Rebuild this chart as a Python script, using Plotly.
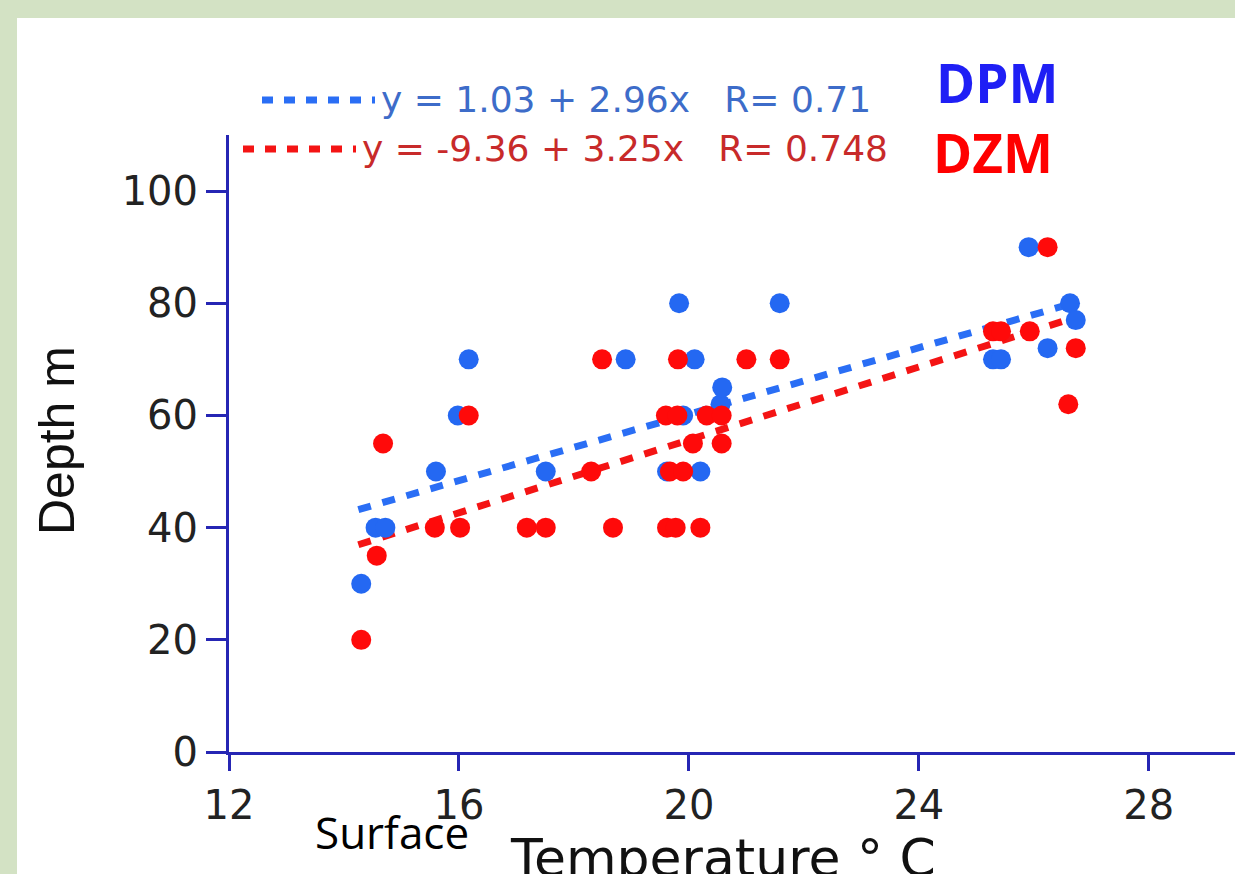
import plotly.graph_objects as go

# ---- data ----
dpm_temp = [14.30, 14.55, 14.72, 15.60, 15.98, 16.17, 17.51, 18.90, 19.62, 19.83, 19.90,
            20.10, 20.20, 20.55, 20.58, 21.58, 25.29, 25.43, 25.91, 26.24, 26.63, 26.73]
dpm_depth = [30, 40, 40, 50, 60, 70, 50, 70, 50, 80, 60,
             70, 50, 62, 65, 80, 70, 70, 90, 72, 80, 77]

dzm_temp = [14.30, 14.57, 14.68, 15.58, 16.02, 16.17, 17.18, 17.51, 18.30, 18.49, 18.68,
            19.60, 19.80, 19.62, 19.77, 19.67, 19.90, 19.81, 20.07, 20.20, 20.31, 20.57,
            20.57, 21.00, 21.58, 25.29, 25.43, 25.93, 26.24, 26.73, 26.60]
dzm_depth = [20, 35, 55, 40, 40, 60, 40, 40, 50, 70, 40,
             60, 60, 40, 40, 50, 50, 70, 55, 40, 60, 60,
             55, 70, 70, 75, 75, 75, 90, 72, 62]

dpm_fit = {"a": 1.03, "b": 2.96, "r": 0.71}
dzm_fit = {"a": -9.36, "b": 3.25, "r": 0.748}
fit_x = [14.25, 26.55]

x_ticks = [12, 16, 20, 24, 28]
y_ticks = [0, 20, 40, 60, 80, 100]

# ---- styles ----
W, H = 1235, 874
BLUE_M = "#2468f2"
RED_M = "#ff0a0a"
AXIS = "#2626b4"
def px(x):
    return x / W
def py(y):
    return 1 - y / H

fig = go.Figure()

for fit, col in [(dzm_fit, "#f41414"), (dpm_fit, "#2a6ef5")]:
    fig.add_trace(go.Scatter(
        x=fit_x, y=[fit["a"] + fit["b"] * v for v in fit_x],
        mode="lines", line=dict(color=col, width=7, dash="13px,12px"),
        hoverinfo="skip", showlegend=False))

fig.add_trace(go.Scatter(x=dpm_temp, y=dpm_depth, mode="markers", name="DPM",
                         marker=dict(color=BLUE_M, size=20, line=dict(width=0)),
                         showlegend=False))
fig.add_trace(go.Scatter(x=dzm_temp, y=dzm_depth, mode="markers", name="DZM",
                         marker=dict(color=RED_M, size=20, line=dict(width=0)),
                         showlegend=False))

tickfont = dict(family="DejaVu Sans", size=40, color="#222222")
fig.update_layout(
    width=W, height=H, autosize=False,
    margin=dict(l=0, r=0, t=0, b=0, pad=0, autoexpand=False),
    paper_bgcolor="#d3e2c4",
    plot_bgcolor="white",
    xaxis=dict(domain=[229 / W, 1], range=[12, 29.5], tickvals=x_ticks, automargin=False,
               showgrid=False, zeroline=False, showline=True, linecolor=AXIS,
               linewidth=3, ticks="outside", ticklen=16, tickwidth=3, tickcolor=AXIS,
               tickfont=tickfont, ticklabelstandoff=0),
    yaxis=dict(domain=[1 - 752 / H, 1 - 135 / H], range=[0, 110], tickvals=y_ticks,
               automargin=False,
               showgrid=False, zeroline=False, showline=True, linecolor=AXIS,
               linewidth=3, ticks="outside", ticklen=20, tickwidth=3, tickcolor=AXIS,
               tickfont=tickfont, ticklabelstandoff=0),
    showlegend=False,
)

# white panel
fig.add_shape(type="rect", xref="paper", yref="paper", x0=px(17), x1=1, y0=0, y1=py(18),
              fillcolor="white", line=dict(width=0), layer="below")

# legend-like samples
legend_items = [
    (dpm_fit, "#2a6ef5", "#3d6cc9", 262, 375, 100),
    (dzm_fit, "#f41414", "#c82a2a", 243, 356, 149),
]
for fit, lcol, tcol, x0, x1, yy in legend_items:
    fig.add_shape(type="line", xref="paper", yref="paper", x0=px(x0), x1=px(x1),
                  y0=py(yy), y1=py(yy), line=dict(color=lcol, width=7, dash="11px,11px"))
    txt = f"y = {fit['a']:.2f} + {fit['b']:.2f}x   R= {fit['r']}"
    fig.add_annotation(x=px(x1 + 4), y=py(yy), xref="paper", yref="paper", text=txt,
                       showarrow=False, xanchor="left", yanchor="middle",
                       font=dict(family="DejaVu Sans", size=36, color=tcol))

fig.add_annotation(x=px(997), y=py(82), xref="paper", yref="paper", text="<b>DPM</b>",
                   showarrow=False, xanchor="center", yanchor="middle",
                   font=dict(family="Open Sans", size=53, color="#1f1ff5"))
fig.add_annotation(x=px(993), y=py(152), xref="paper", yref="paper", text="<b>DZM</b>",
                   showarrow=False, xanchor="center", yanchor="middle",
                   font=dict(family="Open Sans", size=53, color="#ff0000"))

fig.add_annotation(x=px(57), y=py(441), xref="paper", yref="paper", text="Depth m",
                   textangle=-90, showarrow=False, xanchor="center", yanchor="middle",
                   font=dict(family="Liberation Sans", size=50, color="#111111"))
fig.add_annotation(x=px(723), y=py(858), xref="paper", yref="paper", text="Temperature ° C",
                   showarrow=False, xanchor="center", yanchor="middle",
                   font=dict(family="DejaVu Sans", size=52, color="#111111"))
fig.add_annotation(x=px(392), y=py(832), xref="paper", yref="paper", text="Surface",
                   showarrow=False, xanchor="center", yanchor="middle",
                   font=dict(family="Open Sans", size=44, color="#000000"))

fig.write_html("out.html", config={"displayModeBar": False},
               post_script="document.body.style.margin='0';document.body.style.overflow='hidden';")
